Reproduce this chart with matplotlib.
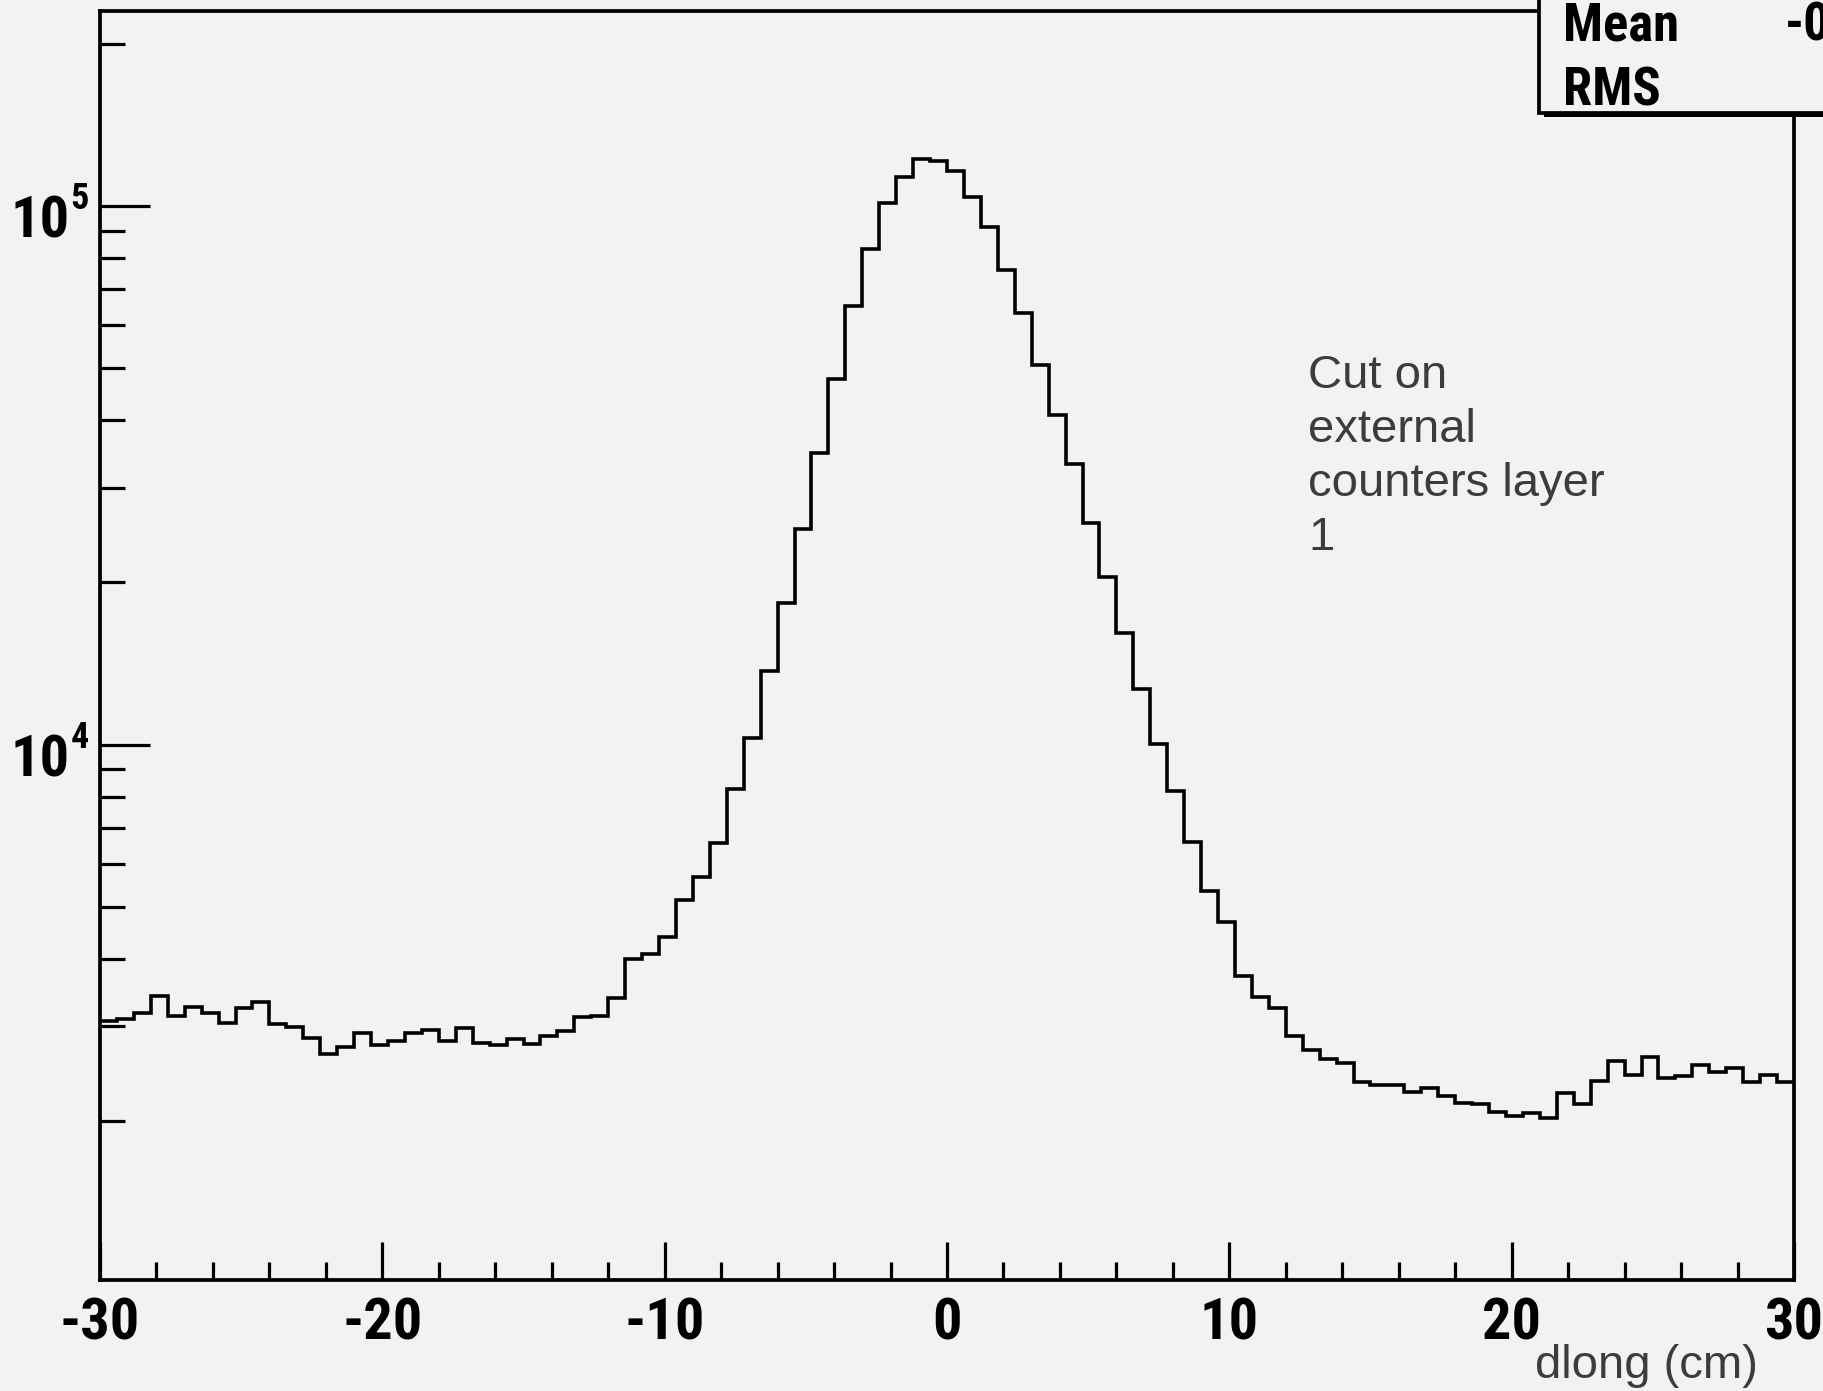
import matplotlib
matplotlib.use('Agg')
import matplotlib.pyplot as plt
from matplotlib import font_manager, ticker
from matplotlib.patches import Rectangle
import numpy as np

# histogram definition
X_MIN, X_MAX, N_BINS = -30.0, 30.0, 100
Y_MIN, Y_MAX = 1014, 2.3e5

# entries per 0.6 cm bin of dlong
counts = [
    3068, 3094, 3178, 3414, 3137, 3262, 3178, 3037, 3239, 3332,
    3025, 2986, 2849, 2661, 2749, 2918, 2769, 2816, 2918, 2952,
    2820, 2974, 2796, 2769, 2837, 2781, 2880, 2942, 3121, 3131,
    3385, 4002, 4085, 4402, 5155, 5684, 6560, 8268, 10283, 13709,
    18294, 25177, 34754, 47808, 65195, 83235, 101030, 113290, 122100, 121000,
    116100, 104000, 91230, 76180, 63240, 50670, 40930, 33200, 25730, 20460,
    16080, 12690, 10016, 8204, 6601, 5346, 4682, 3723, 3392, 3246,
    2879, 2712, 2611, 2568, 2359, 2336, 2336, 2267, 2307, 2226,
    2163, 2151, 2076, 2044, 2067, 2024, 2258, 2151, 2377, 2585,
    2435, 2626, 2407, 2425, 2541, 2470, 2506, 2361, 2435, 2367,
]

x_major = [-30, -20, -10, 0, 10, 20, 30]
y_major = [1e4, 1e5]
stat_names = ['Mean', 'RMS']
mean_text = '-0'
note_lines = ['Cut on', 'external', 'counters layer', '1']
x_title = 'dlong (cm)'

BG = '#f2f2f2'
GREY_TEXT = '#3c3c3c'
W, H = 1824, 1391


def pick_font(*names):
    for name in names:
        try:
            font_manager.findfont(name, fallback_to_default=False)
            return name
        except ValueError:
            continue
    return None


NARROW = pick_font('Liberation Sans Narrow', 'Roboto Condensed', 'Arial Narrow')
if NARROW is None:
    # no condensed face around: plain bold, a touch smaller to keep widths
    NARROW = pick_font('Liberation Sans', 'Arial') or 'DejaVu Sans'
    scale = 0.9
else:
    scale = 1.0
REGULAR = pick_font('Liberation Sans', 'Arial') or 'DejaVu Sans'


def fx(px):
    return px / W


def fy(py):
    return 1 - py / H


fig = plt.figure(figsize=(W / 100, H / 100), dpi=100, facecolor=BG)
ax = fig.add_axes([fx(100), fy(1280), (1794 - 100) / W, (1280 - 11) / H])
ax.set_facecolor(BG)

edges = np.linspace(X_MIN, X_MAX, N_BINS + 1)
ax.stairs(counts, edges, baseline=None, color='black', lw=2.6)

ax.set_xlim(X_MIN, X_MAX)
ax.set_yscale('log')
ax.set_ylim(Y_MIN, Y_MAX)

for spine in ax.spines.values():
    spine.set_linewidth(2.7)
    spine.set_color('black')

# x axis: bold labels, inward ticks
ax.set_xticks(x_major)
ax.set_xticklabels([str(v) for v in x_major])
ax.xaxis.set_minor_locator(ticker.MultipleLocator(2))
ax.tick_params(axis='x', which='major', direction='in', length=27.5, width=2.3,
               pad=12, labelsize=42 * scale, top=False)
ax.tick_params(axis='x', which='minor', direction='in', length=13, width=2.3, top=False)
for lab in ax.get_xticklabels():
    lab.set_fontfamily(NARROW)
    lab.set_fontweight('bold')

# y axis: decades with minor ticks, labels written as 10 + exponent
ax.yaxis.set_major_locator(ticker.FixedLocator(y_major))
ax.yaxis.set_minor_locator(ticker.LogLocator(base=10, subs=np.arange(2, 10)))
ax.yaxis.set_minor_formatter(ticker.NullFormatter())
ax.tick_params(axis='y', which='major', direction='in', length=36, width=2.3,
               labelleft=False, right=False)
ax.tick_params(axis='y', which='minor', direction='in', length=18, width=2.3,
               labelleft=False, right=False)
for val in y_major:
    ax.annotate('10', xy=(0, val), xycoords=('axes fraction', 'data'),
                xytext=(-21.6, -23), textcoords='offset points',
                ha='right', va='baseline', fontsize=42 * scale, fontweight='bold',
                family=NARROW, annotation_clip=False)
    ax.annotate(str(int(round(np.log10(val)))), xy=(0, val),
                xycoords=('axes fraction', 'data'),
                xytext=(-21.4, -2.2), textcoords='offset points',
                ha='left', va='baseline', fontsize=26 * scale, fontweight='bold',
                family=NARROW, annotation_clip=False)

# statistics box in the top right corner, with its drop shadow
box_x0, box_y1 = 1539, 113
fig.patches.append(Rectangle((fx(box_x0 + 5), fy(box_y1 + 4)), (1900 - box_x0) / W,
                             (box_y1 + 40) / H, transform=fig.transFigure,
                             facecolor='black', edgecolor='black', lw=0))
fig.patches.append(Rectangle((fx(box_x0), fy(box_y1)), (1900 - box_x0) / W,
                             (box_y1 + 40) / H, transform=fig.transFigure,
                             facecolor=BG, edgecolor='black', lw=2.7))
for name, base in zip(stat_names, [40.7, 105]):
    fig.text(fx(1563), fy(base), name, ha='left', va='baseline', fontsize=38 * scale,
             fontweight='bold', family=NARROW)
fig.text(fx(1785), fy(40.7), mean_text, ha='left', va='baseline', fontsize=38 * scale,
         fontweight='bold', family=NARROW)

# annotation about the selection
for i, line in enumerate(note_lines):
    fig.text(fx(1308), fy(387.7 + 54 * i), line, ha='left', va='baseline',
             fontsize=34, color=GREY_TEXT, family=REGULAR)

fig.text(fx(1758), fy(1378), x_title, ha='right', va='baseline', fontsize=34,
         color=GREY_TEXT, family=REGULAR)

fig.savefig('out.png', dpi=100, facecolor=BG)
